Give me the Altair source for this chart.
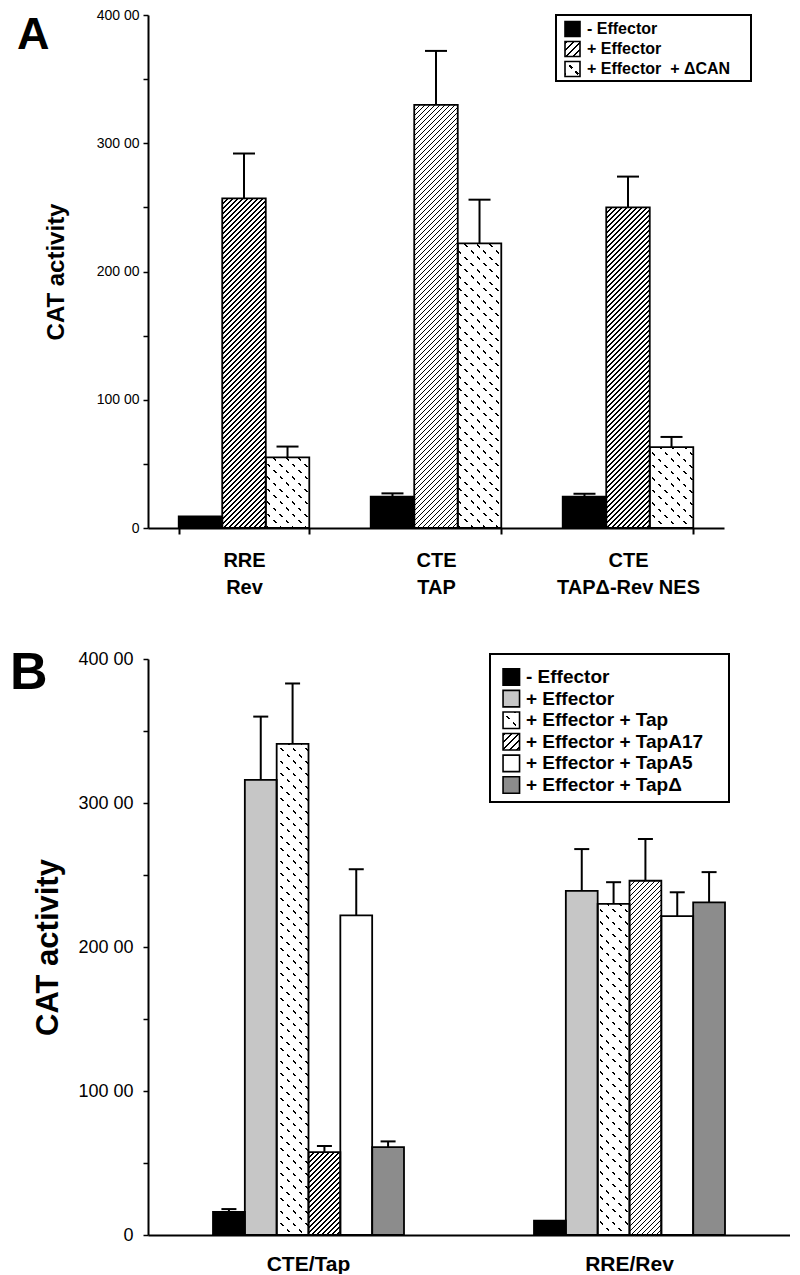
import altair as alt

FONT = "Liberation Sans, Arial, Helvetica, sans-serif"
YMAX = 40000

# ---------------- Panel A data ----------------
A_GROUPS = ["RRE\nRev", "CTE\nTAP", "CTE\nTAP\u0394-Rev NES"]
A_SERIES = ["- Effector", "+ Effector", "+ Effector\u00a0 + \u0394CAN"]
A_MINUS = [900, 2450, 2450]
A_MINUS_HI = [900, 2700, 2670]
A_PLUS = [25700, 33000, 25000]
A_PLUS_HI = [29200, 37200, 27400]
A_CAN = [5500, 22200, 6300]
A_CAN_HI = [6350, 25600, 7100]

# ---------------- Panel B data ----------------
B_GROUPS = ["CTE/Tap", "RRE/Rev"]
B_SERIES = ["- Effector", "+ Effector", "+ Effector + Tap",
            "+ Effector + TapA17", "+ Effector + TapA5", "+ Effector + Tap\u0394"]
B_MINUS = [1600, 1000]
B_MINUS_HI = [1800, 1000]
B_PLUS = [31600, 23900]
B_PLUS_HI = [36000, 26800]
B_TAP = [34100, 23000]
B_TAP_HI = [38300, 24500]
B_A17 = [5760, 24600]
B_A17_HI = [6180, 27500]
B_A5 = [22200, 22150]
B_A5_HI = [25400, 23800]
B_DEL = [6100, 23100]
B_DEL_HI = [6500, 25200]

Y_TICKS = [0, 5000, 10000, 15000, 20000, 25000, 30000, 35000, 40000]

# ---------------- styles ----------------
A_STYLES = ["black", "hatch", "dash"]
B_STYLES = ["black", "gray", "dash", "hatch", "white", "dark"]


def r(v):
    return round(v, 5)


def stripes(w, h, direction, period, frac, ink, paper="white", phase=0.0):
    """Linear gradient (bounding-box units) that draws 45 degree stripes."""
    L = w + h
    k = L / (w * w + h * h)
    if direction == "/":
        x1, y1, x2, y2 = 0, 0, k * w, k * h
    else:
        x1, y1, x2, y2 = 0, 1, k * w, 1 - k * h
    stops = [{"offset": 0, "color": paper}]
    n = 0
    while True:
        a = phase + n * period
        b = a + frac * period
        if a >= L:
            break
        if b > 0:
            ao = r(max(a, 0) / L)
            bo = r(min(b, L) / L)
            stops += [{"offset": ao, "color": paper}, {"offset": ao, "color": ink},
                      {"offset": bo, "color": ink}, {"offset": bo, "color": paper}]
        n += 1
    stops.append({"offset": 1, "color": paper})
    return {"gradient": "linear", "x1": r(x1), "y1": r(y1), "x2": r(x2), "y2": r(y2),
            "stops": stops}


def fill_pair(style, w, h, swatch=False):
    if style == "black":
        return "black", None
    if style == "gray":
        return "#c6c6c6", None
    if style == "dark":
        return "#8c8c8c", None
    if style == "white":
        return "white", None
    if style == "hatch":
        if swatch:
            return stripes(w, h, "/", 7, 0.24, "black", phase=1), None
        return stripes(w, h, "/", 5, 0.3, "black"), None
    # dashed texture
    p = 12.5
    return (stripes(w, h, "\\", p, 0.17, "black", phase=2),
            stripes(w, h, "/", p, 0.55, "white", "rgba(255,255,255,0)", phase=1))


YLBL = ("datum.value == 0 ? '0' : (datum.value % 10000 == 0 ? "
        "format(datum.value / 100, 'd') + ' 00' : '')")


def panel(groups, series, vals, his, styles, W, H, pi, cap, xaxis, yaxis, legend, letter):
    nser = len(series)
    bw = W / len(groups) * (1 - pi) / nser
    recs = []
    for si, s in enumerate(series):
        for gi, g in enumerate(groups):
            v = vals[si][gi]
            f1, f2 = fill_pair(styles[si], bw, v / YMAX * H)
            recs.append(dict(group=g, series=s, value=v, hi=his[si][gi], f1=f1,
                             f2=f2 if f2 else "rgba(0,0,0,0)", dash=f2 is not None))
    data = alt.Data(values=recs)
    yscale = alt.Scale(domain=[0, YMAX], nice=False, zero=True)
    x = alt.X("group:N", sort=groups, title=None,
              scale=alt.Scale(paddingInner=pi, paddingOuter=pi / 2),
              axis=alt.Axis(**xaxis))
    xo = alt.XOffset("series:N", sort=series,
                     scale=alt.Scale(paddingInner=0, paddingOuter=0))
    yax = alt.Y("value:Q", stack=None, scale=yscale, title="CAT activity",
                axis=alt.Axis(**yaxis))
    yhi = alt.Y("hi:Q", stack=None, scale=yscale, title="CAT activity",
                axis=alt.Axis(**yaxis))

    base = alt.Chart(data).encode(x=x, xOffset=xo)
    bars = base.mark_bar(strokeWidth=0).encode(y=yax, fill=alt.Fill("f1:N", scale=None))
    over = base.transform_filter("datum.dash").mark_bar(strokeWidth=0).encode(
        y=yax, fill=alt.Fill("f2:N", scale=None))
    outline = base.mark_bar(fill="white", fillOpacity=0, stroke="black",
                            strokeWidth=1.8).encode(y=yax)
    errs = base.transform_filter("datum.hi > datum.value")
    rules = errs.mark_rule(color="black", strokeWidth=2).encode(y=yax, y2="hi:Q")
    caps = errs.mark_tick(color="black", size=cap, thickness=2, opacity=1).encode(y=yhi)
    core = alt.layer(bars, over, outline, rules, caps)

    # manual legend
    L = legend
    lrecs = []
    for i, s in enumerate(series):
        f1, f2 = fill_pair(styles[i], L["sq"], L["sq"], swatch=True)
        lrecs.append(dict(label=s, ord=i, f1=f1, f2=f2 if f2 else "rgba(0,0,0,0)",
                          dash=f2 is not None))
    ldata = alt.Data(values=lrecs)
    ly = alt.Y("ord:Q", scale=alt.Scale(domain=[0, nser - 1], range=[L["y0"], L["y1"]]),
               axis=None)
    box = alt.Chart(alt.Data(values=[{"k": 1}])).mark_rect(
        fill="white", stroke="black", strokeWidth=2).encode(
        x=alt.value(L["bx0"]), x2=alt.value(L["bx1"]),
        y=alt.value(L["by0"]), y2=alt.value(L["by1"]))
    lbase = alt.Chart(ldata).encode(x=alt.value(L["sx"]), y=ly)
    size = L["sq"] ** 2
    sw1 = lbase.mark_square(size=size, opacity=1, strokeWidth=0).encode(
        fill=alt.Fill("f1:N", scale=None))
    sw2 = lbase.transform_filter("datum.dash").mark_square(
        size=size, opacity=1, strokeWidth=0).encode(fill=alt.Fill("f2:N", scale=None))
    sw3 = lbase.mark_square(size=size, opacity=1, filled=False, stroke="black",
                            strokeWidth=1.6)
    txt = alt.Chart(ldata).mark_text(align="left", baseline="middle", fontSize=L["fs"],
                                     fontWeight="bold", font=FONT, color="black").encode(
        x=alt.value(L["tx"]), y=ly, text="label:N")
    leg = alt.layer(box, sw1, sw2, sw3, txt)

    let = alt.Chart(alt.Data(values=[{"t": letter["t"]}])).mark_text(
        align="left", baseline="alphabetic", fontSize=letter["fs"], fontWeight="bold",
        font=FONT, color="black").encode(
        x=alt.value(letter["x"]), y=alt.value(letter["y"]), text="t:N")

    return alt.layer(core, leg, let).resolve_scale(y="independent").properties(
        width=W, height=H)


common_axis = dict(domainWidth=2, domainColor="black", tickColor="black",
                   labelColor="black", labelFont=FONT, titleFont=FONT,
                   titleColor="black", grid=False)

pA = panel(
    A_GROUPS, A_SERIES,
    [A_MINUS, A_PLUS, A_CAN], [A_MINUS_HI, A_PLUS_HI, A_CAN_HI],
    A_STYLES, 576, 513, 0.32, 22,
    xaxis=dict(common_axis, labelExpr="split(datum.label, '\\n')", labelFontSize=20,
               labelFontWeight="bold", labelLineHeight=27, labelPadding=16, labelAngle=0,
               tickBand="extent", tickSize=6, tickWidth=2),
    yaxis=dict(common_axis, values=Y_TICKS, labelExpr=YLBL, labelFontSize=14,
               labelPadding=4, tickSize=5, tickWidth=1.5, titleFontSize=24,
               titleFontWeight="bold", titlePadding=28),
    legend=dict(sq=15, y0=14, y1=54, bx0=408, bx1=603, by0=0, by1=66, sx=424.5,
                tx=439, fs=16),
    letter=dict(t="A", fs=45, x=-131, y=33.5),
)

pB = panel(
    B_GROUPS, B_SERIES,
    [B_MINUS, B_PLUS, B_TAP, B_A17, B_A5, B_DEL],
    [B_MINUS_HI, B_PLUS_HI, B_TAP_HI, B_A17_HI, B_A5_HI, B_DEL_HI],
    B_STYLES, 642, 576, 0.405, 15,
    xaxis=dict(common_axis, labelFontSize=21, labelFontWeight="bold", labelPadding=18,
               labelAngle=0, ticks=False),
    yaxis=dict(common_axis, values=Y_TICKS, labelExpr=YLBL, labelFontSize=18,
               labelPadding=10, tickSize=5, tickWidth=1.5, titleFontSize=31,
               titleFontWeight="bold", titlePadding=13),
    legend=dict(sq=16.5, y0=18, y1=126, bx0=342, bx1=581, by0=-5, by1=143, sx=363.3,
                tx=378, fs=19),
    letter=dict(t="B", fs=52, x=-138, y=30),
)

chart = alt.vconcat(pA, pB, spacing=131, bounds="flush").resolve_scale(
    x="independent", y="independent", xOffset="independent"
).properties(
    padding={"left": 2, "top": 0, "right": 0, "bottom": 0},
    background="white",
).configure(font=FONT).configure_view(stroke=None)

chart.save("out.html", embed_options={"renderer": "svg", "actions": False})
